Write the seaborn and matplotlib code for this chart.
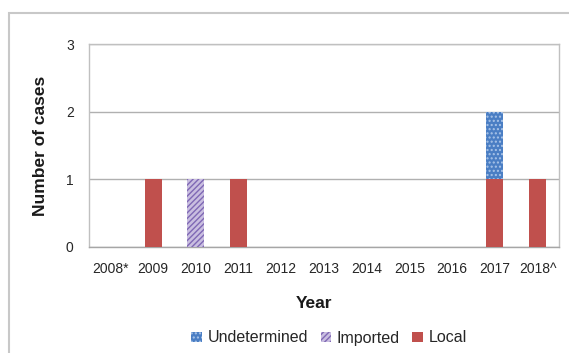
import matplotlib
matplotlib.use("Agg")
import matplotlib.pyplot as plt
import seaborn as sns
import numpy as np
import pandas as pd
from matplotlib.patches import Patch, Rectangle

years = ["2008*", "2009", "2010", "2011", "2012", "2013", "2014", "2015", "2016", "2017", "2018^"]
local = [0, 1, 0, 1, 0, 0, 0, 0, 0, 1, 1]
imported = [0, 0, 1, 0, 0, 0, 0, 0, 0, 0, 0]
undetermined = [0, 0, 0, 0, 0, 0, 0, 0, 0, 1, 0]
yticks = [0, 1, 2, 3]

sns.set_style("white")
plt.rcParams['font.family'] = ['Liberation Sans', 'DejaVu Sans']
plt.rcParams['hatch.linewidth'] = 1.0

df = pd.DataFrame({"Year": years, "Local": local, "Imported": imported, "Undetermined": undetermined})
df["L_I"] = df["Local"] + df["Imported"]
df["Total"] = df["L_I"] + df["Undetermined"]

fig = plt.figure(figsize=(5.69, 3.53), dpi=100)
ax = fig.add_axes([89/569, 1 - 247/353, 470/569, 203/353])

blue = "#4A7EC4"
dot = "#A9C4E8"
lav = "#C9BEE0"
purple = "#7F68B5"
red = "#C0504D"
w = 0.4

sns.barplot(data=df, x="Year", y="Total", color=blue, width=w, ax=ax,
            hatch="....", edgecolor=dot, linewidth=0, saturation=1, zorder=3)
sns.barplot(data=df, x="Year", y="L_I", color=lav, width=w, ax=ax,
            hatch="//////", edgecolor=purple, linewidth=0, saturation=1, zorder=4)
sns.barplot(data=df, x="Year", y="Local", color=red, width=w, ax=ax,
            linewidth=0, saturation=1, zorder=5)

ax.set_ylim(0, 3)
ax.set_xlim(-0.5, len(years) - 0.5)
ax.set_yticks(yticks)
ax.set_yticklabels([str(v) for v in yticks], fontsize=10)
ax.tick_params(axis='y', length=0, pad=11, labelcolor="#262626")
ax.tick_params(axis='x', length=0, pad=11, labelsize=10, labelcolor="#262626")
ax.set_xticks(np.arange(-0.5, len(years), 1.0), minor=True)
ax.tick_params(axis='x', which='minor', direction='in', length=3, color="#808080", width=0.8)
ax.grid(axis='y', color="#B0B0B0", linewidth=1, zorder=0)
ax.set_axisbelow(True)
for s in ax.spines.values():
    s.set_color("#C0C0C0")
    s.set_linewidth(1)
ax.spines['bottom'].set_color("#A6A6A6")

ax.set_xlabel("Year", fontsize=12.5, fontweight='bold', color="#1a1a1a")
ax.xaxis.set_label_coords((314 - 89) / 470, -49 / 203)
ax.set_ylabel("Number of cases", fontsize=12.5, fontweight='bold', color="#1a1a1a")
ax.yaxis.set_label_coords(-(89 - 48) / 470, 0.5)

handles = [
    Patch(facecolor=blue, hatch="....", edgecolor=dot, linewidth=0, label="Undetermined"),
    Patch(facecolor=lav, hatch="//////", edgecolor=purple, linewidth=0, label="Imported"),
    Patch(facecolor=red, linewidth=0, label="Local"),
]
fig.legend(handles=handles, loc='center', bbox_to_anchor=(329/569, 1 - 338/353), ncol=3,
           frameon=False, fontsize=11.5, handlelength=0.65, handleheight=0.65,
           handletextpad=0.35, columnspacing=0.8, labelcolor="#262626")

# outer frame
fig.patches.append(Rectangle((9/569, -0.1), 1.2, 1 - 13/353 + 0.1, transform=fig.transFigure,
                             fill=False, edgecolor="#C8C8C8", linewidth=1.5, zorder=0))

fig.savefig("out.png", dpi=100)
